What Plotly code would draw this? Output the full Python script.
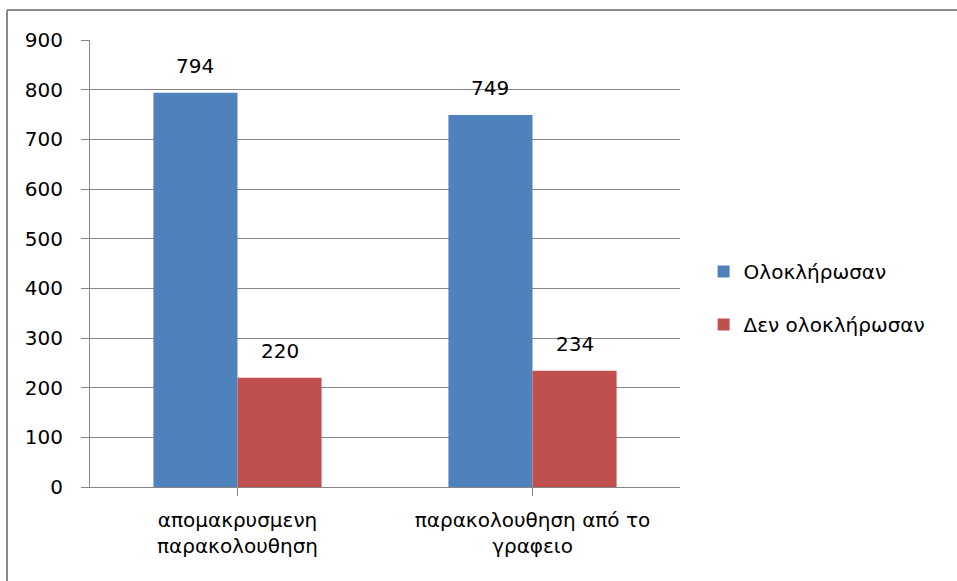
import plotly.graph_objects as go

categories = ["απομακρυσμενη<br>παρακολουθηση", "παρακολουθηση από το<br>γραφειο"]
completed = [794, 749]
not_completed = [220, 234]
series_names = ["Ολοκλήρωσαν", "Δεν ολοκλήρωσαν"]
colors = ["#4F81BD", "#C0504D"]
y_ticks = [0, 100, 200, 300, 400, 500, 600, 700, 800, 900]

FONT = "DejaVu Sans, Liberation Sans, sans-serif"
FS = 20
GRID = "#868686"
bargap = 0.43

fig = go.Figure()
for i, (name, vals) in enumerate([(series_names[0], completed), (series_names[1], not_completed)]):
    fig.add_trace(go.Bar(
        x=list(range(len(categories))), y=vals, name=name,
        marker=dict(color=colors[i], line=dict(width=0)),
        legendgroup=f"g{i}",
    ))

# data labels
bw = (1 - bargap) / 2
for i, vals in enumerate([completed, not_completed]):
    off = -bw / 2 if i == 0 else bw / 2
    for j, v in enumerate(vals):
        fig.add_annotation(x=j + off, y=v, text=str(v), showarrow=False,
                           yshift=27, font=dict(size=FS, color="#000000", family=FONT))

fig.update_layout(
    width=957, height=581,
    margin=dict(l=90, r=277, t=40, b=94),
    paper_bgcolor="white", plot_bgcolor="white",
    barmode="group", bargap=bargap, bargroupgap=0,
    font=dict(family=FONT, size=FS, color="#000000"),
    legend=dict(x=1.04, y=0.423, xanchor="left", yanchor="middle",
                traceorder="grouped", tracegroupgap=24,
                font=dict(size=FS, family=FONT), bgcolor="rgba(0,0,0,0)"),
    xaxis=dict(
        tickmode="array", tickvals=list(range(len(categories))), ticktext=categories,
        range=[-0.5, 1.5], showgrid=False, showline=True, linecolor=GRID, linewidth=1,
        ticks="outside", ticklen=8, tickcolor=GRID, tickson="boundaries",
        tickfont=dict(size=FS, family=FONT), type="linear", ticklabelstandoff=7,
    ),
    yaxis=dict(
        range=[0, 900], tickvals=y_ticks, showgrid=True, gridcolor=GRID, gridwidth=1,
        showline=True, linecolor=GRID, linewidth=1, ticks="outside", ticklen=8,
        tickcolor=GRID, zeroline=False, tickfont=dict(size=FS, family=FONT),
        ticklabelstandoff=14,
    ),
)
# outer border (top and left edges) in paper coords
pw = 957 - 90 - 277
ph = 581 - 40 - 94
left_x = (7 - 90) / pw
top_y = (581 - 94 - 10) / ph
fig.add_shape(type="line", xref="paper", yref="paper", x0=left_x, x1=(957 - 90) / pw + 0.01,
              y0=top_y, y1=top_y, line=dict(color="#8C8C8C", width=2))
fig.add_shape(type="line", xref="paper", yref="paper", x0=left_x, x1=left_x,
              y0=top_y, y1=-0.3, line=dict(color="#8C8C8C", width=2))

fig.write_html("out.html")
